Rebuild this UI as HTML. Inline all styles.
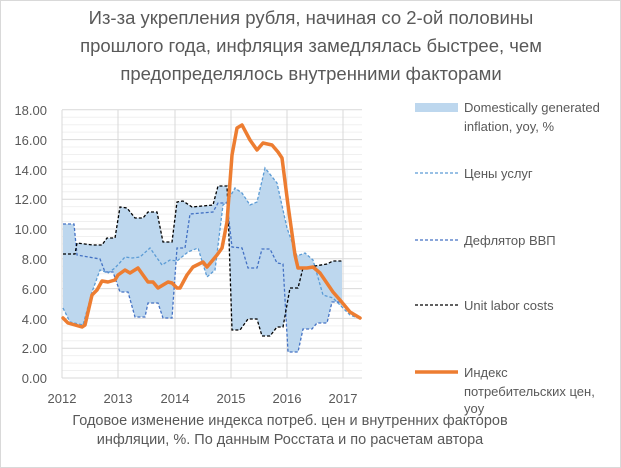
<!DOCTYPE html>
<html><head><meta charset="utf-8"><style>
html,body{margin:0;padding:0;background:#fff;}
svg{display:block;font-family:"Liberation Sans","DejaVu Sans",sans-serif;}
</style></head><body>
<svg id="s" width="621" height="468" viewBox="0 0 621 468" xmlns="http://www.w3.org/2000/svg">
<rect x="0" y="0" width="621" height="468" fill="#fff"/>
<rect x="0.5" y="0.5" width="620" height="467" fill="none" stroke="#d9d9d9"/>
<g fill="#595959" font-size="18.5" text-anchor="middle">
<text x="311" y="24">Из-за укрепления рубля, начиная со 2-ой половины</text>
<text x="311" y="52">прошлого года, инфляция замедлялась быстрее, чем</text>
<text x="311" y="80">предопределялось внутренними факторами</text>
</g>
<g id="grid"></g>
<path id="fill" fill="#bdd7ee" stroke="none"/>
<g fill="none" stroke-width="1.3" stroke-dasharray="3,2">
<polyline id="serv" stroke="#5b9bd5"/>
<polyline id="defl" stroke="#4472c4"/>
<polyline id="ulc" stroke="#000"/>
</g>
<polyline id="cpi" fill="none" stroke="#ed7d31" stroke-width="3.5" stroke-linejoin="round" stroke-linecap="round"/>
<g fill="#595959" font-size="13" text-anchor="end">
<text x="47" y="115">18.00</text><text x="47" y="145">16.00</text><text x="47" y="175">14.00</text>
<text x="47" y="204">12.00</text><text x="47" y="234">10.00</text><text x="47" y="264">8.00</text>
<text x="47" y="294">6.00</text><text x="47" y="324">4.00</text><text x="47" y="353">2.00</text>
<text x="47" y="383">0.00</text>
</g>
<g fill="#595959" font-size="13" text-anchor="middle">
<text x="62" y="403">2012</text><text x="118" y="403">2013</text><text x="175" y="403">2014</text>
<text x="231" y="403">2015</text><text x="287" y="403">2016</text><text x="343" y="403">2017</text>
</g>
<rect x="415" y="103" width="43" height="9" fill="#bdd7ee"/>
<line x1="415" y1="173" x2="458" y2="173" stroke="#5b9bd5" stroke-width="1.3" stroke-dasharray="3,2"/>
<line x1="415" y1="240" x2="458" y2="240" stroke="#4472c4" stroke-width="1.3" stroke-dasharray="3,2"/>
<line x1="415" y1="305" x2="458" y2="305" stroke="#000" stroke-width="1.3" stroke-dasharray="3,2"/>
<line x1="415" y1="372" x2="458" y2="372" stroke="#ed7d31" stroke-width="3.5"/>
<g fill="#595959" font-size="13">
<text x="464" y="112">Domestically generated</text>
<text x="464" y="131">inflation, yoy, %</text>
<text x="464" y="178">Цены услуг</text>
<text x="464" y="245">Дефлятор ВВП</text>
<text x="464" y="310">Unit labor costs</text>
<text x="464" y="377">Индекс</text>
<text x="464" y="396">потребительских цен,</text>
<text x="464" y="413">yoy</text>
</g>
<g fill="#595959" font-size="14.5" text-anchor="middle">
<text x="290" y="425">Годовое изменение индекса потреб. цен и внутренних факторов</text>
<text x="290" y="444">инфляции, %. По данным Росстата и по расчетам автора</text>
</g>
</svg>
<script>
(function(){
var NS="http://www.w3.org/2000/svg";
var g=document.getElementById("grid");
function ln(x1,y1,x2,y2,c,w){var l=document.createElementNS(NS,"line");l.setAttribute("x1",x1);l.setAttribute("y1",y1);l.setAttribute("x2",x2);l.setAttribute("y2",y2);l.setAttribute("stroke",c);l.setAttribute("stroke-width",w);g.appendChild(l);}
for(var v=0;v<=18.01;v+=0.5){var y=378-v*14.9;var maj=Math.abs(v/2-Math.round(v/2))<0.01;ln(62,y,362,y,maj?"#d9d9d9":"#f0f0f0",1);}
[62,118,175,231,287,343].forEach(function(x){ln(x,110,x,378,"#d9d9d9",1);});
var serv=[[63,308],[70,322],[83,325],[92,292],[100,270],[108,273],[115,268],[125,257],[132,258],[140,257],[150,248],[162,265],[170,260],[177,261],[188,252],[198,248],[207,277],[215,270],[223,205],[227,202],[235,188],[242,193],[250,205],[257,202],[265,168],[277,183],[287,228],[297,256],[305,253],[313,260],[323,295],[333,298],[343,308],[350,315],[358,318]];
var defl=[[63,224],[74,224],[77,255],[100,259],[105,272],[113,272],[120,292],[128,292],[135,317],[145,317],[148,303],[158,303],[163,318],[172,318],[177,248],[185,248],[190,214],[213,212],[218,203],[227,203],[232,247],[242,248],[248,268],[257,268],[262,249],[270,249],[277,263],[283,264],[288,352],[298,352],[303,329],[312,329],[317,323],[327,323],[332,302],[340,302]];
var ulc=[[63,254],[75,254],[77,243],[93,245],[102,245],[107,238],[115,238],[120,207],[127,208],[135,218],[143,218],[148,212],[157,212],[163,242],[172,242],[177,202],[183,201],[192,207],[213,205],[218,186],[227,186],[228,208],[232,330],[240,330],[248,319],[257,319],[262,336],[270,336],[277,327],[283,327],[290,288],[298,288],[303,268],[315,266],[327,264],[333,261],[342,261]];
var cpi=[[63,318],[68,323],[82,327],[85,325],[92,295],[97,290],[102,281],[108,282],[115,280],[118,275],[125,270],[130,273],[138,268],[148,282],[153,282],[158,288],[168,282],[172,283],[177,288],[180,288],[187,275],[193,267],[203,262],[207,267],[217,255],[222,248],[227,222],[232,155],[237,128],[242,125],[250,140],[257,150],[263,143],[272,145],[278,152],[282,158],[288,205],[295,255],[298,268],[307,268],[313,267],[320,273],[333,292],[340,300],[350,312],[360,318]];
function pts(a){return a.map(function(p){return p.join(",");}).join(" ");}
document.getElementById("serv").setAttribute("points",pts(serv));
document.getElementById("defl").setAttribute("points",pts(defl));
document.getElementById("ulc").setAttribute("points",pts(ulc));
document.getElementById("cpi").setAttribute("points",pts(cpi));
function at(a,x){if(x<=a[0][0])return a[0][1];for(var i=1;i<a.length;i++){if(x<=a[i][0]){var t=(x-a[i-1][0])/((a[i][0]-a[i-1][0])||1);return a[i-1][1]+t*(a[i][1]-a[i-1][1]);}}return a[a.length-1][1];}
var up=[],lo=[];
for(var x=63;x<=342;x+=0.5){var ys=[at(serv,x),at(defl,Math.min(x,340)),at(ulc,x)];up.push([x,Math.min.apply(null,ys)]);lo.push([x,Math.max.apply(null,ys)]);}
var d="M"+up.map(function(p){return p[0]+","+p[1];}).join("L");
d+="L"+lo.reverse().map(function(p){return p[0]+","+p[1];}).join("L")+"Z";
document.getElementById("fill").setAttribute("d",d);
})();
</script>
</body></html>
